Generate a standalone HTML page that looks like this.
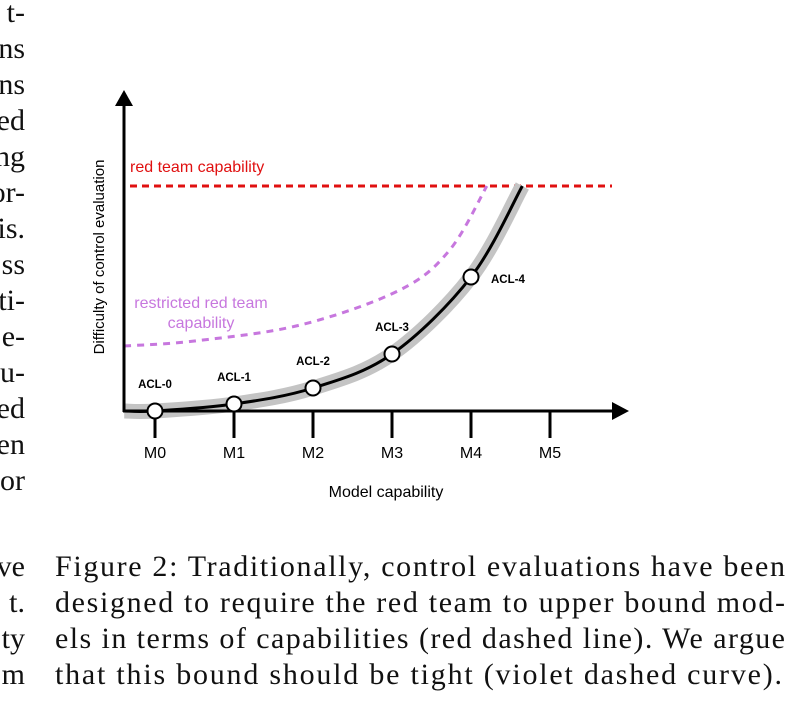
<!DOCTYPE html>
<html><head><meta charset="utf-8"><style>
html,body{margin:0;padding:0;background:#fff;width:812px;height:721px;overflow:hidden}
svg{display:block}
.serif{font-family:"Liberation Serif",serif;font-size:30px;fill:#111}
.sans{font-family:"Liberation Sans",sans-serif}
</style></head><body>
<svg id="fig" width="812" height="721" viewBox="0 0 812 721">
<g id="leftcol" class="serif" text-anchor="end">
<text x="25" y="22">t-</text><text x="25" y="58">ns</text><text x="25" y="94">ns</text><text x="25" y="130">ed</text>
<text x="25" y="166">ng</text><text x="25" y="202">or-</text><text x="25" y="238">is.</text><text x="25" y="274">ss</text>
<text x="25" y="310">ti-</text><text x="25" y="346">e-</text><text x="25" y="382">u-</text><text x="25" y="418">ed</text>
<text x="25" y="454">en</text><text x="25" y="490">or</text>
<text x="25" y="576">ve</text><text x="25" y="612">t.</text><text x="25" y="648">ty</text><text x="25" y="684">m</text>
</g>
<g class="serif">
<text x="55" y="576" textLength="730" lengthAdjust="spacing">Figure 2: Traditionally, control evaluations have been</text>
<text x="55" y="612" textLength="730" lengthAdjust="spacing">designed to require the red team to upper bound mod-</text>
<text x="55" y="648" textLength="730" lengthAdjust="spacing">els in terms of capabilities (red dashed line). We argue</text>
<text x="55" y="684" textLength="727" lengthAdjust="spacing">that this bound should be tight (violet dashed curve).</text>
</g>
<g id="chart"></g>
</svg>
<script>
const models=["M0","M1","M2","M3","M4","M5"];
const aclLabels=["ACL-0","ACL-1","ACL-2","ACL-3","ACL-4"];
const aclX=[0,1,2,3,4];
const aclY=[0,7,23,57,134];
const curveX=[-0.39,0,1,2,3,4,4.65];
const curveY=[0,0,7,23,57,134,225];
const violetX=[-0.39,0.5,1.84,3.1,3.73,4.2];
const violetY=[65,70,86,121,161,225];
const redTeamLevel=[225];

const NS="http://www.w3.org/2000/svg";
const g=document.getElementById('chart');
const x0=124,y0=411;
function sx(v){return 155+v*79;}
function sy(v){return y0-v;}
function mk(t,a,p){const e=document.createElementNS(NS,t);for(const k in a)e.setAttribute(k,a[k]);(p||g).appendChild(e);return e;}
function smooth(xs,ys){
  const P=xs.map((x,i)=>[sx(x),sy(ys[i])]);
  let d="M"+P[0][0]+","+P[0][1];
  for(let i=0;i<P.length-1;i++){
    const p0=P[Math.max(0,i-1)],p1=P[i],p2=P[i+1],p3=P[Math.min(P.length-1,i+2)];
    const c1=[p1[0]+(p2[0]-p0[0])/6,p1[1]+(p2[1]-p0[1])/6];
    const c2=[p2[0]-(p3[0]-p1[0])/6,p2[1]-(p3[1]-p1[1])/6];
    d+=" C"+c1+" "+c2+" "+p2;
  }
  return d;
}
const red=mk('line',{x1:x0+6,x2:612,y1:sy(redTeamLevel[0]),y2:sy(redTeamLevel[0]),stroke:'#e01010','stroke-width':3,'stroke-dasharray':'7,5'});


const vio=mk('path',{d:smooth(violetX,violetY),fill:'none',stroke:'#c777de','stroke-width':3,'stroke-dasharray':'7,6'});


const band=mk('path',{d:smooth(curveX,curveY),fill:'none',stroke:'#c4c4c4','stroke-width':15});


const ya=mk('line',{x1:x0,y1:y0+1,x2:x0,y2:104,stroke:'#000','stroke-width':3});


mk('polygon',{points:`${x0-9},106 ${x0+9},106 ${x0},90`,fill:'#000'});
const xa=mk('line',{x1:x0-1,y1:y0,x2:614,y2:y0,stroke:'#000','stroke-width':3});


mk('polygon',{points:`612,${y0-9} 612,${y0+9} 629,${y0}`,fill:'#000'});
models.forEach((m,i)=>{
  const t=mk('line',{x1:sx(i),x2:sx(i),y1:y0,y2:y0+27,stroke:'#000','stroke-width':3});
  
  
  const l=mk('text',{x:sx(i),y:y0+47,'text-anchor':'middle','font-size':16,class:'sans'});
  l.textContent=m;
  
  
});
const cv=mk('path',{d:smooth(curveX,curveY),fill:'none',stroke:'#000','stroke-width':3});


aclX.forEach((v,i)=>{
  const c=mk('circle',{cx:sx(v),cy:sy(aclY[i]),r:7.5,fill:'#fff',stroke:'#000','stroke-width':2});
  
  
  const last=i===aclX.length-1;
  const t=mk('text',{x:last?sx(v)+20:sx(v),y:last?sy(aclY[i])+6:sy(aclY[i])-23,'text-anchor':last?'start':'middle','font-size':11.5,'font-weight':'bold',class:'sans'});
  t.textContent=aclLabels[i];
  
  
});
function txt(s,a,name){const t=mk('text',a);t.textContent=s;return t;}
txt('red team capability',{x:130,y:172,'font-size':16,fill:'#e01010',class:'sans'},'red-team-label');
txt('restricted red team',{x:201,y:308,'font-size':16,fill:'#c777de','text-anchor':'middle',class:'sans'},'restricted-label-line1');
txt('capability',{x:201,y:328,'font-size':16,fill:'#c777de','text-anchor':'middle',class:'sans'},'restricted-label-line2');
txt('Model capability',{x:386,y:497,'font-size':16,'text-anchor':'middle',class:'sans'},'x-axis-title');
txt('Difficulty of control evaluation',{x:0,y:0,'font-size':15,'text-anchor':'middle',class:'sans',transform:'translate(104,257) rotate(-90)'},'y-axis-title');
</script>
</body></html>
